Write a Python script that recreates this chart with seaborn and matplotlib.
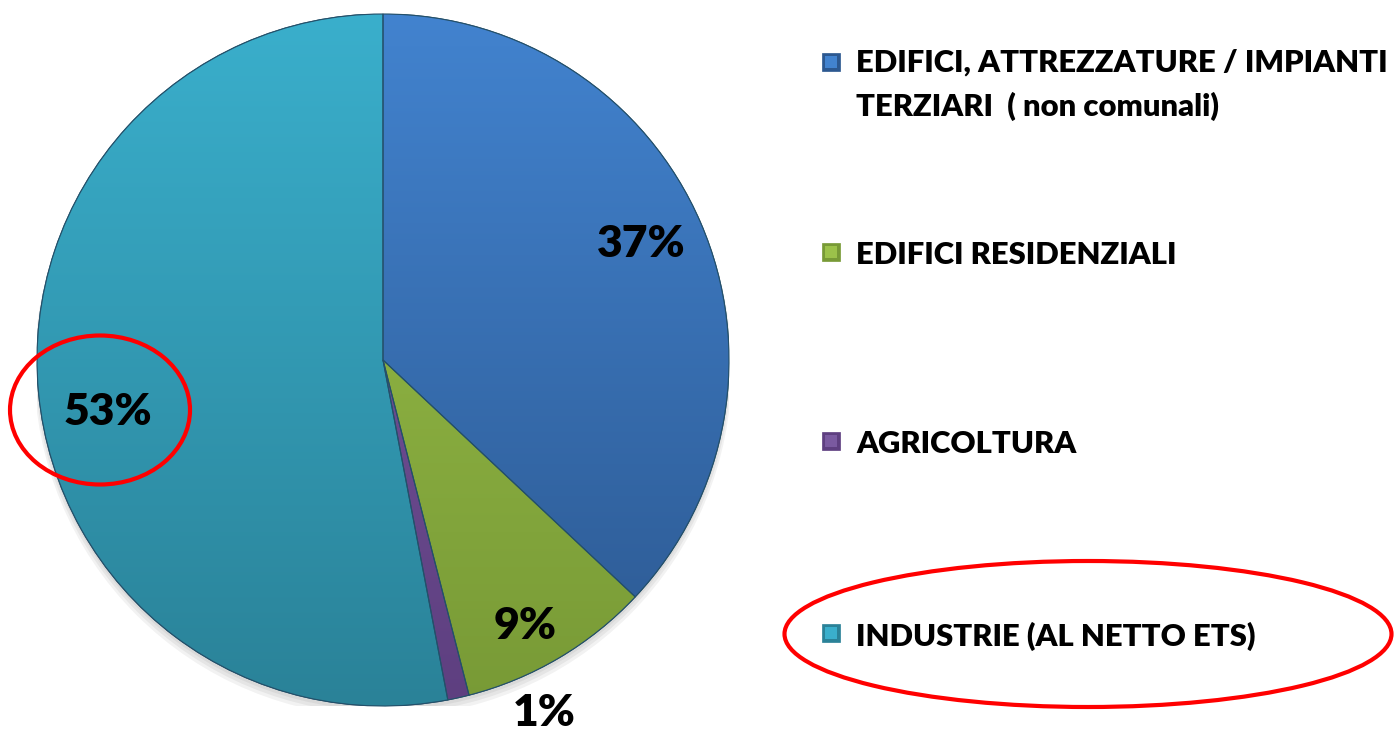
import matplotlib
matplotlib.use("Agg")
import matplotlib.pyplot as plt
import numpy as np
import seaborn as sns
from matplotlib.colors import to_rgb
from matplotlib.patches import Ellipse, Rectangle, Circle, Wedge

sns.set_theme(style="white")
plt.rcParams["font.family"] = ["Lato", "DejaVu Sans"]

# data
categories = [
    "EDIFICI, ATTREZZATURE / IMPIANTI\nTERZIARI  ( non comunali)",
    "EDIFICI RESIDENZIALI",
    "AGRICOLTURA",
    "INDUSTRIE (AL NETTO ETS)",
]
shares = [37, 9, 1, 53]
top_colors = ["#4283cf", "#9cc24a", "#7a5aa0", "#3aafcc"]
bottom_colors = ["#2c5890", "#789a36", "#5e3f80", "#2a8298"]

# label placement (data units, pie radius = 1)
label_pos = [(0.745, 0.335), (0.41, -0.77), (0.465, -1.02), (-0.795, -0.15)]

W, H = 1399, 732
fig = plt.figure(figsize=(W / 100, H / 100), dpi=100)
cx, cy, r = 383, 360, 346
ax = fig.add_axes([(cx - r) / W, (H - cy - r) / H, 2 * r / W, 2 * r / H])

# soft shadow below the pie
for k in range(3):
    ax.add_patch(Circle((0.0, -0.012 - 0.006 * k), 1.0 + 0.004 * k,
                        color="black", alpha=0.05, lw=0, zorder=0))

wedges, texts, autotexts = ax.pie(
    shares,
    startangle=90,
    counterclock=False,
    autopct="%1.0f%%",
    pctdistance=0.82,
    wedgeprops=dict(edgecolor="#1f4d66", linewidth=0.8),
    textprops=dict(fontsize=32, fontweight="heavy", color="black"),
    radius=1.0,
)

# vertical gradient inside every wedge
ys = np.linspace(1, 0, 256)[:, None]
for w, c_top, c_bot in zip(wedges, top_colors, bottom_colors):
    t = np.array(to_rgb(c_top))
    b = np.array(to_rgb(c_bot))
    grad = (t * ys + b * (1 - ys))[:, None, :]
    grad = np.repeat(grad, 2, axis=1)
    im = ax.imshow(grad, extent=[-1, 1, -1, 1], origin="upper",
                   aspect="auto", zorder=1.5, interpolation="bilinear")
    im.set_clip_path(w)
    w.set_facecolor(c_bot)
    w.set_zorder(1)
    ax.add_patch(Wedge((0, 0), 1.0, w.theta1, w.theta2,
                       fill=False, ec="#24506a", lw=0.8, zorder=2))

for t, pos in zip(autotexts, label_pos):
    t.set_position(pos)
    t.set_zorder(5)
    t.set_ha("center")
    t.set_va("center")
    t.set_clip_on(False)

ax.set_xlim(-1, 1)
ax.set_ylim(-1, 1)
ax.set_aspect("equal")
ax.axis("off")

# legend drawn at the right
legend_y = [62, 252, 441, 633]
sq = 18
for lab, yy, c_top, c_bot in zip(categories, legend_y, top_colors, bottom_colors):
    fig.patches.append(Rectangle((822 / W, 1 - (yy + sq / 2) / H), sq / W, sq / H,
                                 transform=fig.transFigure, facecolor=c_bot,
                                 edgecolor=c_bot, lw=0.5))
    fig.patches.append(Rectangle(((822 + 3) / W, 1 - (yy + sq / 2 - 3) / H),
                                 (sq - 6) / W, (sq - 6) / H,
                                 transform=fig.transFigure, facecolor=c_top,
                                 lw=0))
    if "\n" in lab:
        fig.text(856 / W, 1 - (yy - 13) / H, lab, fontsize=22.3, fontweight="heavy",
                 color="black", va="top", ha="left", linespacing=1.62)
    else:
        fig.text(856 / W, 1 - (yy + 3) / H, lab, fontsize=22.3, fontweight="heavy",
                 color="black", va="center", ha="left")

# red highlight ellipses
fig.patches.append(Ellipse((100 / W, 1 - 410 / H), 180 / W, 149 / H,
                           transform=fig.transFigure, fill=False,
                           ec="#ff0000", lw=3, zorder=10))
fig.patches.append(Ellipse((1088 / W, 1 - 634 / H), 607 / W, 146 / H,
                           transform=fig.transFigure, fill=False,
                           ec="#ff0000", lw=3, zorder=10))

fig.savefig("out.png", dpi=100)
